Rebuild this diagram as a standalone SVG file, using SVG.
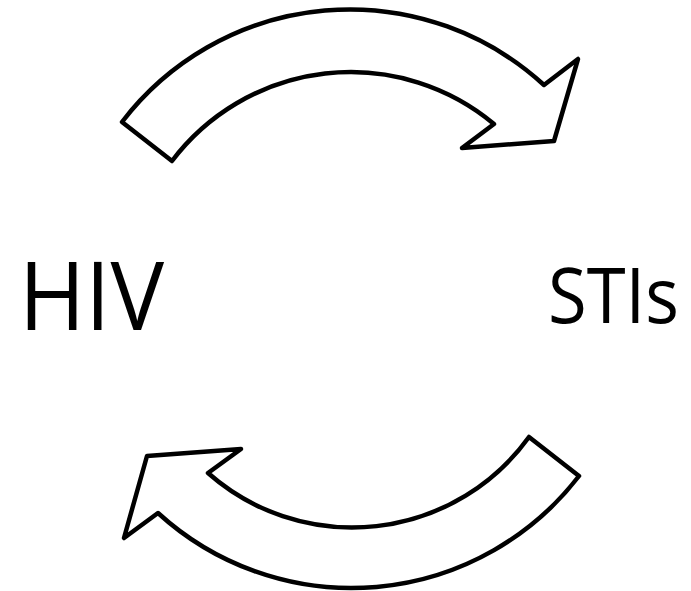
<svg xmlns="http://www.w3.org/2000/svg" width="691" height="591" viewBox="0 0 691 591">
<style>
.arrow{fill:#fff;stroke:#000;stroke-width:4.5;stroke-linejoin:round}
.lbl{font-family:"Open Sans","Liberation Sans",sans-serif;fill:#000}
</style>
<rect width="691" height="591" fill="#fff"/>
<g id="connectors">
<path id="arrow-top" class="arrow" d="M122,122 A287,287 0 0,1 544,85 L578,59 L554,141 L462,148 L494,124 A224,224 0 0,0 172,161 Z"/>
<path id="arrow-bottom" class="arrow" d="M579,476 A287,287 0 0,1 158,513 L124,538 L147,456 L241,449 L208,473 A218,218 0 0,0 529,437 Z"/>
</g>
<g id="node-hiv">
<text class="lbl" x="19" y="330" font-size="95" textLength="145" lengthAdjust="spacingAndGlyphs">HIV</text>
</g>
<g id="node-stis">
<text class="lbl" x="548" y="323" font-size="77" textLength="131" lengthAdjust="spacingAndGlyphs">STIs</text>
</g>
</svg>
